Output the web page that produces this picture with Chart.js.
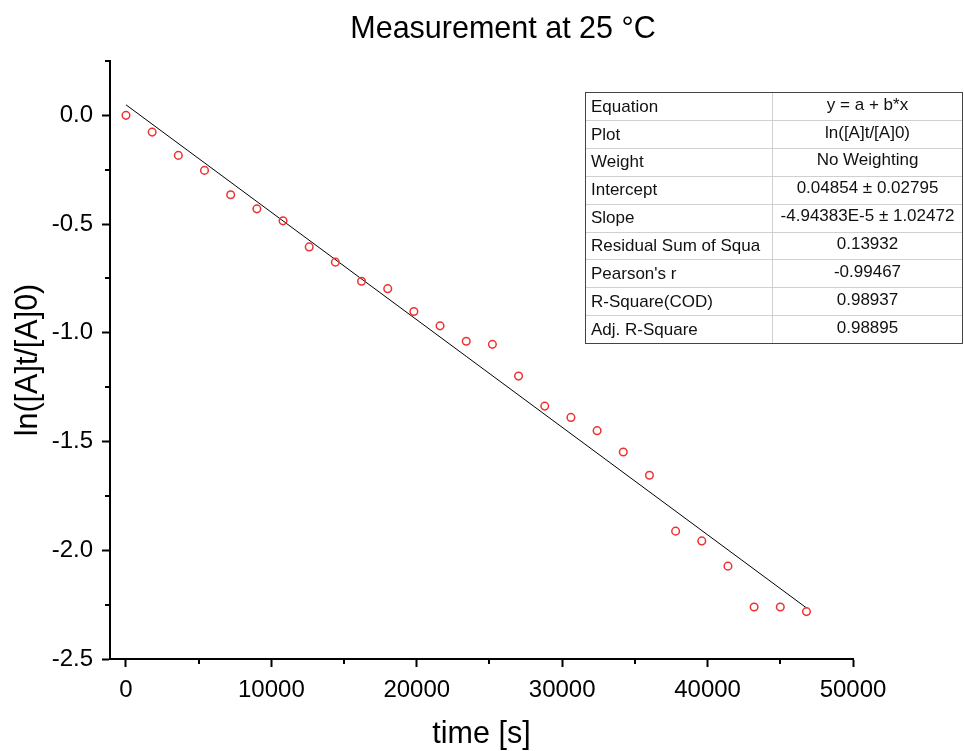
<!DOCTYPE html>
<html lang="en">
<head>
<meta charset="utf-8">
<title>Measurement at 25 °C</title>
<script src="https://cdn.jsdelivr.net/npm/chart.js@4.4.0/dist/chart.umd.min.js"></script>
<style>
  body { margin: 0; background: #fff; }
  #wrap { width: 964px; height: 751px; position: relative; }
</style>
</head>
<body>
<div id="wrap"><canvas id="kinetics"></canvas></div>
<script>
// time points [s] and ln([A]t/[A]0)
var times = [0, 1800, 3600, 5400, 7200, 9000, 10800, 12600, 14400, 16200, 18000,
             19800, 21600, 23400, 25200, 27000, 28800, 30600, 32400, 34200, 36000,
             37800, 39600, 41400, 43200, 45000, 46800];
var lnRatio = [0.000, -0.077, -0.184, -0.253, -0.365, -0.430, -0.485, -0.605, -0.675,
               -0.763, -0.797, -0.902, -0.968, -1.039, -1.053, -1.199, -1.337, -1.389,
               -1.450, -1.548, -1.655, -1.912, -1.957, -2.073, -2.261, -2.261, -2.282];

// linear fit y = a + b*x
var intercept = 0.04854;
var slope = -4.94383e-5;
var fitRange = [0, 46800];

var xTicks = [0, 10000, 20000, 30000, 40000, 50000];
var xMinor = [5000, 15000, 25000, 35000, 45000];
var yTicks = [0.0, -0.5, -1.0, -1.5, -2.0, -2.5];
var yMinor = [0.25, -0.25, -0.75, -1.25, -1.75, -2.25];

var chartTitle = 'Measurement at 25 \u00b0C';
var tableLabels = ['Equation', 'Plot', 'Weight', 'Intercept', 'Slope',
                   'Residual Sum of Squa', "Pearson's r", 'R-Square(COD)', 'Adj. R-Square'];
var tableValues = ['y = a + b*x', 'ln([A]t/[A]0)', 'No Weighting', '0.04854 \u00b1 0.02795',
                   '-4.94383E-5 \u00b1 1.02472', '0.13932', '-0.99467', '0.98937', '0.98895'];

var FONT = "'Liberation Sans', Arial, sans-serif";

var points = times.map(function (t, i) { return { x: t, y: lnRatio[i] }; });
var fitLine = fitRange.map(function (t) { return { x: t, y: intercept + slope * t }; });

// title, short ticks between the labelled ones, fit results table
var extras = {
  id: 'extras',
  afterDraw: function (chart) {
    var ctx = chart.ctx, area = chart.chartArea;
    var xs = chart.scales.x, ys = chart.scales.y;
    ctx.save();

    ctx.fillStyle = '#000';
    ctx.font = '30.5px ' + FONT;
    ctx.textAlign = 'center';
    ctx.textBaseline = 'alphabetic';
    ctx.fillText(chartTitle, 503, 38);

    ctx.strokeStyle = '#000';
    ctx.lineWidth = 2;
    ctx.beginPath();
    xMinor.forEach(function (v) {
      var px = Math.round(xs.getPixelForValue(v));
      ctx.moveTo(px, area.bottom);
      ctx.lineTo(px, area.bottom + 5);
    });
    yMinor.forEach(function (v) {
      var py = Math.round(ys.getPixelForValue(v));
      ctx.moveTo(area.left, py);
      ctx.lineTo(area.left - 5, py);
    });
    ctx.stroke();

    // table
    var left = 585, right = 963, top = 92, rowH = 27.9, split = 772;
    var bottom = top + rowH * tableLabels.length;
    ctx.fillStyle = '#fff';
    ctx.fillRect(left, top, right - left, bottom - top);
    ctx.lineWidth = 1;
    ctx.strokeStyle = '#d0d0d0';
    ctx.beginPath();
    for (var i = 1; i < tableLabels.length; i++) {
      var ly = Math.round(top + i * rowH) + 0.5;
      ctx.moveTo(left, ly);
      ctx.lineTo(right, ly);
    }
    ctx.moveTo(split + 0.5, top);
    ctx.lineTo(split + 0.5, bottom);
    ctx.stroke();
    ctx.strokeStyle = '#444';
    ctx.strokeRect(left + 0.5, top + 0.5, right - left - 1, Math.round(bottom - top));

    ctx.fillStyle = '#111';
    ctx.font = '17px ' + FONT;
    ctx.textBaseline = 'middle';
    tableLabels.forEach(function (txt, i) {
      var cy = top + i * rowH + rowH / 2 + 1;
      ctx.textAlign = 'left';
      ctx.fillText(txt, left + 6, cy);
      ctx.textAlign = 'center';
      ctx.fillText(tableValues[i], (split + right) / 2, cy - 2);
    });
    ctx.restore();
  }
};

new Chart(document.getElementById('kinetics'), {
  type: 'scatter',
  data: {
    datasets: [
      {
        label: 'ln([A]t/[A]0)',
        data: points,
        showLine: false,
        pointStyle: 'circle',
        pointRadius: 3.8,
        pointBorderWidth: 1.5,
        pointBorderColor: '#f03030',
        pointBackgroundColor: 'rgba(0,0,0,0)'
      },
      {
        label: 'Linear Fit',
        data: fitLine,
        showLine: true,
        borderColor: '#000',
        borderWidth: 1,
        pointRadius: 0
      }
    ]
  },
  options: {
    responsive: true,
    maintainAspectRatio: false,
    animation: false,
    layout: { padding: { left: 0, right: 111, top: 61, bottom: 0 } },
    plugins: {
      legend: { display: false },
      tooltip: { enabled: false },
      title: { display: false }
    },
    scales: {
      x: {
        type: 'linear',
        min: -1100,
        max: 50000,
        afterBuildTicks: function (s) { s.ticks = xTicks.map(function (v) { return { value: v }; }); },
        afterFit: function (s) { s.height = 92; },
        border: { display: true, color: '#000', width: 2 },
        grid: { drawOnChartArea: false, drawTicks: true, tickLength: 8, tickWidth: 2, tickColor: '#000' },
        ticks: {
          color: '#000',
          padding: 9,
          maxRotation: 0,
          autoSkip: false,
          font: { family: FONT, size: 24 },
          callback: function (v) { return String(v); }
        },
        title: {
          display: true,
          text: 'time [s]',
          color: '#000',
          font: { family: FONT, size: 30.5, lineHeight: 1.1 },
          padding: { top: 0, bottom: 0 }
        }
      },
      y: {
        type: 'linear',
        min: -2.5,
        max: 0.25,
        afterBuildTicks: function (s) { s.ticks = yTicks.map(function (v) { return { value: v }; }); },
        afterFit: function (s) { s.width = 110; },
        border: { display: true, color: '#000', width: 2 },
        grid: { drawOnChartArea: false, drawTicks: true, tickLength: 8, tickWidth: 2, tickColor: '#000' },
        ticks: {
          color: '#000',
          padding: 9,
          autoSkip: false,
          font: { family: FONT, size: 24 },
          callback: function (v) { return Number(v).toFixed(1); }
        },
        title: {
          display: true,
          text: 'ln([A]t/[A]0)',
          color: '#000',
          font: { family: FONT, size: 30.5 },
          padding: { top: 10, bottom: 0 }
        }
      }
    }
  },
  plugins: [extras]
});
</script>
</body>
</html>
